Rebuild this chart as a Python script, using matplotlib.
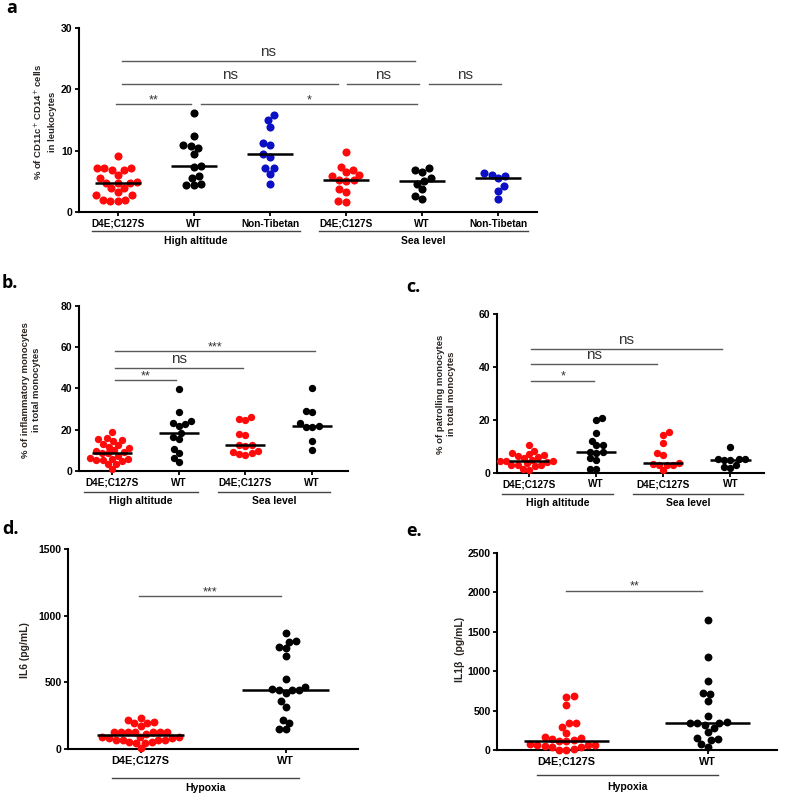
import numpy as np
import matplotlib
matplotlib.use("Agg")
import matplotlib.pyplot as plt
from matplotlib.transforms import blended_transform_factory

plt.rcParams['font.family'] = ['Liberation Sans', 'DejaVu Sans']

# ---------------- data ----------------
a_labels = ['D4E;C127S', 'WT', 'Non-Tibetan', 'D4E;C127S', 'WT', 'Non-Tibetan']
a_high_d4e = [9.2, 7.2, 7.1, 7.1, 6.8, 6.8, 6.1, 5.5, 4.9, 4.8, 4.8, 4.7, 3.9, 3.9, 3.3,
              2.7, 2.7, 2.0, 2.0, 1.8, 1.8]
a_high_wt = [16.1, 12.4, 10.9, 10.8, 10.5, 9.5, 7.5, 7.4, 5.8, 5.6, 4.6, 4.4, 4.4]
a_high_nt = [15.8, 15.0, 13.8, 11.3, 11.0, 9.4, 9.0, 7.2, 7.2, 6.2, 4.6]
a_sea_d4e = [9.8, 7.4, 6.8, 6.5, 6.0, 5.9, 5.2, 5.2, 5.0, 3.7, 3.3, 1.8, 1.7]
a_sea_wt = [7.2, 6.8, 6.6, 5.6, 5.0, 4.6, 3.7, 2.6, 2.2]
a_sea_nt = [6.3, 6.1, 5.9, 5.5, 4.2, 3.4, 2.1]
a_sig = [(0.05, 3.9, 24.6, 'ns'), (0.05, 2.9, 20.9, 'ns'), (3.01, 3.96, 20.9, 'ns'),
         (4.09, 5.04, 20.9, 'ns'), (-0.03, 0.96, 17.6, '**'), (1.1, 3.93, 17.6, '*')]

bc_labels = ['D4E;C127S', 'WT', 'D4E;C127S', 'WT']
b_high_d4e = [18.7, 16.0, 15.5, 15.0, 14.3, 13.2, 12.5, 11.8, 11.0, 10.0, 9.5, 9.0, 8.8, 8.5,
              7.5, 6.5, 6.0, 6.0, 5.5, 5.3, 5.0, 3.5, 3.4, 1.0]
b_high_wt = [39.7, 28.6, 24.2, 23.1, 22.6, 21.6, 18.2, 16.5, 15.3, 10.5, 8.5, 6.5, 4.3]
b_sea_d4e = [26.3, 25.2, 24.7, 17.7, 17.4, 12.6, 12.4, 12.1, 9.7, 9.0, 8.5, 8.0, 7.9]
b_sea_wt = [40.2, 29.2, 28.7, 23.1, 21.6, 21.5, 21.4, 14.5, 10.4]
b_sig = [(0.04, 3.04, 58, '***'), (0.04, 1.96, 50, 'ns'), (0.04, 0.96, 44, '**')]

c_high_d4e = [10.5, 8.2, 7.6, 7.0, 6.8, 6.5, 6.0, 5.5, 5.0, 4.6, 4.5, 4.3, 4.0, 3.5, 3.0, 3.0,
              2.8, 2.5, 1.3, 1.2]
c_high_wt = [20.6, 20.0, 15.2, 12.1, 10.6, 10.4, 8.0, 7.7, 7.3, 5.5, 4.8, 1.4, 1.3]
c_sea_d4e = [15.3, 14.3, 11.1, 7.6, 6.7, 3.8, 3.2, 3.0, 3.0, 2.8, 1.0]
c_sea_wt = [9.8, 5.3, 5.2, 5.1, 5.0, 4.7, 2.9, 2.0, 1.7]
c_sig = [(0.03, 2.87, 46.9, 'ns'), (0.03, 1.91, 41.0, 'ns'), (0.03, 0.97, 34.9, '*')]

de_labels = ['D4E;C127S', 'WT']
d_d4e = [235, 218, 200, 198, 193, 175, 130, 130, 128, 128, 127, 125, 125, 115, 92, 90, 88,
         86, 85, 70, 68, 68, 66, 52, 50, 48, 47, 5]
d_wt = [868, 808, 800, 768, 755, 698, 523, 463, 450, 445, 443, 440, 420, 360, 318, 218, 193,
        150, 148]
d_sig = [(-0.01, 0.97, 1148, '***')]

e_d4e = [690, 669, 572, 347, 339, 297, 220, 161, 150, 135, 130, 118, 110, 70, 65, 62, 60, 55,
         42, 40, 8, 5, 2]
e_wt = [1653, 1186, 877, 729, 712, 623, 432, 360, 347, 347, 339, 318, 284, 233, 157, 140, 127,
        76, 42]
e_sig = [(0.0, 0.96, 2020, '**')]

RED = '#ff0a0a'
BLACK = '#000000'
BLUE = '#0c10c4'
GRAY = '#5a5a5a'
LABC = '#2a2420'

W, H = 796, 810
fig = plt.figure(figsize=(W / 100, H / 100), dpi=100)


def add_ax(left, right, top, bottom):
    return fig.add_axes([left / W, 1 - bottom / H, (right - left) / W, (bottom - top) / H])


def swarm(ax, xc, vals, diam):
    T = ax.transData
    vals = np.asarray(vals, float)
    ys = T.transform(np.column_stack([np.full(len(vals), xc), vals]))[:, 1]
    xpu = T.transform((xc + 1, 0))[0] - T.transform((xc, 0))[0]
    order = np.argsort(ys)
    placed = []
    offs = np.zeros(len(vals))
    flip = 1
    for i in order:
        y = ys[i]
        cands = [0.0]
        for (px, py) in placed:
            dy = y - py
            if abs(dy) < diam:
                dx = np.sqrt(diam ** 2 - dy ** 2)
                cands += [px + dx, px - dx]
        cands.sort(key=lambda c: (round(abs(c), 3), -flip * c))
        chosen = cands[-1]
        for c in cands:
            if all((c - px) ** 2 + (y - py) ** 2 >= diam ** 2 - 1e-6 for px, py in placed):
                chosen = c
                break
        flip = -flip
        placed.append((chosen, y))
        offs[i] = chosen
    return xc + offs / xpu


def style(ax, xlim, ylim, yticks, labels):
    ax.set_xlim(*xlim)
    ax.set_ylim(*ylim)
    ax.set_yticks(yticks)
    ax.set_yticklabels([str(t) for t in yticks], fontsize=7.5, fontweight='bold')
    ax.set_xticks(range(len(labels)))
    ax.set_xticklabels(labels, fontsize=7.2, fontweight='bold')
    for s in ['top', 'right']:
        ax.spines[s].set_visible(False)
    for s in ['left', 'bottom']:
        ax.spines[s].set_linewidth(1.5)
    ax.tick_params(axis='both', direction='out', length=3.2, width=1.3, pad=1.5)
    ax.patch.set_alpha(0)


def groups(ax, data, colors, cdiam=7.0, s=30):
    for i, (vals, col) in enumerate(zip(data, colors)):
        xs = swarm(ax, i, vals, cdiam)
        ax.scatter(xs, vals, s=s, color=col, linewidths=0, zorder=3, clip_on=False)
        med = np.median(vals)
        ax.plot([i - 0.3, i + 0.3], [med, med], color='black', lw=1.8, zorder=4,
                solid_capstyle='butt')


def sigbars(ax, sig, ns_size=11, star_size=9):
    for x1, x2, y, t in sig:
        ax.plot([x1, x2], [y, y], color=GRAY, lw=1.0, clip_on=False, zorder=2)
        if t == 'ns':
            ax.annotate(t, ((x1 + x2) / 2, y), xytext=(0, 1.5), textcoords='offset points',
                        ha='center', va='bottom', fontsize=ns_size, color='#333333')
        else:
            ax.annotate(t, ((x1 + x2) / 2, y), xytext=(0, -1.5), textcoords='offset points',
                        ha='center', va='bottom', fontsize=star_size, color='#333333')


def glines(ax, spans, line_px, label_px):
    trans = blended_transform_factory(ax.transData, ax.transAxes)
    h = ax.bbox.height
    for x1, x2, lab in spans:
        ax.plot([x1, x2], [-line_px / h] * 2, transform=trans, clip_on=False,
                color='#444444', lw=1.0)
        ax.text((x1 + x2) / 2, -label_px / h, lab, transform=trans, ha='center',
                va='center', fontsize=7.5, fontweight='bold')


def ylab(x, y, txt, size=6.8):
    fig.text(x / W, 1 - y / H, txt, rotation=90, ha='center', va='center',
             multialignment='center', fontsize=size, fontweight='bold', color=LABC,
             linespacing=1.35)


def letter(x, y, t):
    fig.text(x / W, 1 - y / H, t, ha='left', va='center', fontsize=13, fontweight='bold',
             family=['Open Sans', 'DejaVu Sans'])


# ---------------- panel a ----------------
axa = add_ax(79, 537, 28, 212)
style(axa, (-0.51, 5.51), (0, 30), [0, 10, 20, 30], a_labels)
groups(axa, [a_high_d4e, a_high_wt, a_high_nt, a_sea_d4e, a_sea_wt, a_sea_nt],
       [RED, BLACK, BLUE, RED, BLACK, BLUE], cdiam=7.6, s=34)
sigbars(axa, a_sig)
glines(axa, [(-0.34, 2.39, 'High altitude'), (2.64, 5.39, 'Sea level')], 19, 29)
ylab(45, 122, '% of CD11c$^{+}$ CD14$^{+}$ cells\nin leukocytes')

# ---------------- panel b ----------------
axb = add_ax(79, 348, 305.7, 471)
style(axb, (-0.5, 3.54), (0, 80), [0, 20, 40, 60, 80], bc_labels)
groups(axb, [b_high_d4e, b_high_wt, b_sea_d4e, b_sea_wt], [RED, BLACK, RED, BLACK],
       cdiam=6.5, s=28)
sigbars(axb, b_sig)
glines(axb, [(-0.43, 1.29, 'High altitude'), (1.59, 3.27, 'Sea level')], 21, 30)
ylab(31, 390, '% of inflammatory monocytes\nin total monocytes')

# ---------------- panel c ----------------
axc = add_ax(497, 764, 314.3, 472.7)
style(axc, (-0.48, 3.5), (0, 60), [0, 20, 40, 60], bc_labels)
groups(axc, [c_high_d4e, c_high_wt, c_sea_d4e, c_sea_wt], [RED, BLACK, RED, BLACK],
       cdiam=6.4, s=28)
sigbars(axc, c_sig)
glines(axc, [(-0.4, 1.25, 'High altitude'), (1.54, 3.19, 'Sea level')], 21, 30)
ylab(446, 394, '% of patrolling monocytes\nin total monocytes')

# ---------------- panel d ----------------
axd = add_ax(68, 358, 549, 749)
style(axd, (-0.5, 1.5), (0, 1500), [0, 500, 1000, 1500], de_labels)
axd.tick_params(axis='x', labelsize=7.8)
groups(axd, [d_d4e, d_wt], [RED, BLACK], cdiam=7.0, s=32)
sigbars(axd, d_sig)
glines(axd, [(-0.2, 1.09, 'Hypoxia')], 29, 39)
ylab(25, 650, 'IL6 (pg/mL)', size=7.5)

# ---------------- panel e ----------------
axe = add_ax(497, 777, 553, 750)
style(axe, (-0.49, 1.49), (0, 2500), [0, 500, 1000, 1500, 2000, 2500], de_labels)
axe.tick_params(axis='x', labelsize=7.8)
groups(axe, [e_d4e, e_wt], [RED, BLACK], cdiam=7.4, s=32)
sigbars(axe, e_sig)
glines(axe, [(-0.21, 1.07, 'Hypoxia')], 25, 37)
ylab(460, 649, 'IL1β  (pg/mL)', size=7.5)

letter(6, 8, 'a')
letter(2, 283, 'b.')
letter(406, 287, 'c.')
letter(2, 529, 'd.')
letter(406, 531, 'e.')

fig.savefig('out.png', dpi=100)
